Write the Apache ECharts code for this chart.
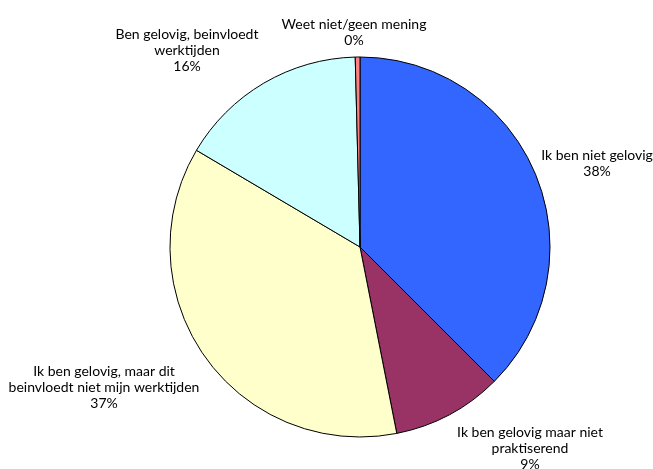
<!DOCTYPE html>
<html>
<head>
<meta charset="utf-8">
<script src="https://cdn.jsdelivr.net/npm/echarts@6/dist/echarts.min.js"></script>
<style>html,body{margin:0;padding:0;background:#fff}#c{width:653px;height:469px}</style>
</head>
<body>
<div id="c"></div>
<script>
const categories = [
  'Ik ben niet gelovig',
  'Ik ben gelovig maar niet\npraktiserend',
  'Ik ben gelovig, maar dit\nbeinvloedt niet mijn werktijden',
  'Ben gelovig, beinvloedt\nwerktijden',
  'Weet niet/geen mening'
];
const values = [37.5, 9.4, 36.6, 16.1, 0.4];
const colors = ['#3366FF', '#993366', '#FFFFCC', '#CCFFFF', '#FF8080'];
const labelAnchors = [[597, 163], [530, 448], [104, 387], [187, 50], [354, 32]];

const chart = echarts.init(document.getElementById('c'), null, {renderer: 'canvas'});
chart.setOption({
  animation: false,
  series: [{
    type: 'pie',
    center: [360, 247],
    radius: 190,
    startAngle: 90,
    clockwise: true,
    avoidLabelOverlap: false,
    data: categories.map((n, i) => ({name: n, value: values[i], itemStyle: {color: colors[i]}})),
    itemStyle: {borderColor: '#000', borderWidth: 1},
    label: {
      show: true,
      position: 'outside',
      fontFamily: 'Lato',
      fontSize: 14,
      lineHeight: 16,
      color: '#000',
      align: 'center',
      formatter: p => p.name + '\n' + Math.round(p.percent) + '%'
    },
    labelLine: {show: false},
    labelLayout: p => ({
      x: labelAnchors[p.dataIndex][0],
      y: labelAnchors[p.dataIndex][1],
      align: 'center',
      verticalAlign: 'middle'
    }),
    emphasis: {disabled: true}
  }]
});
</script>
</body>
</html>
